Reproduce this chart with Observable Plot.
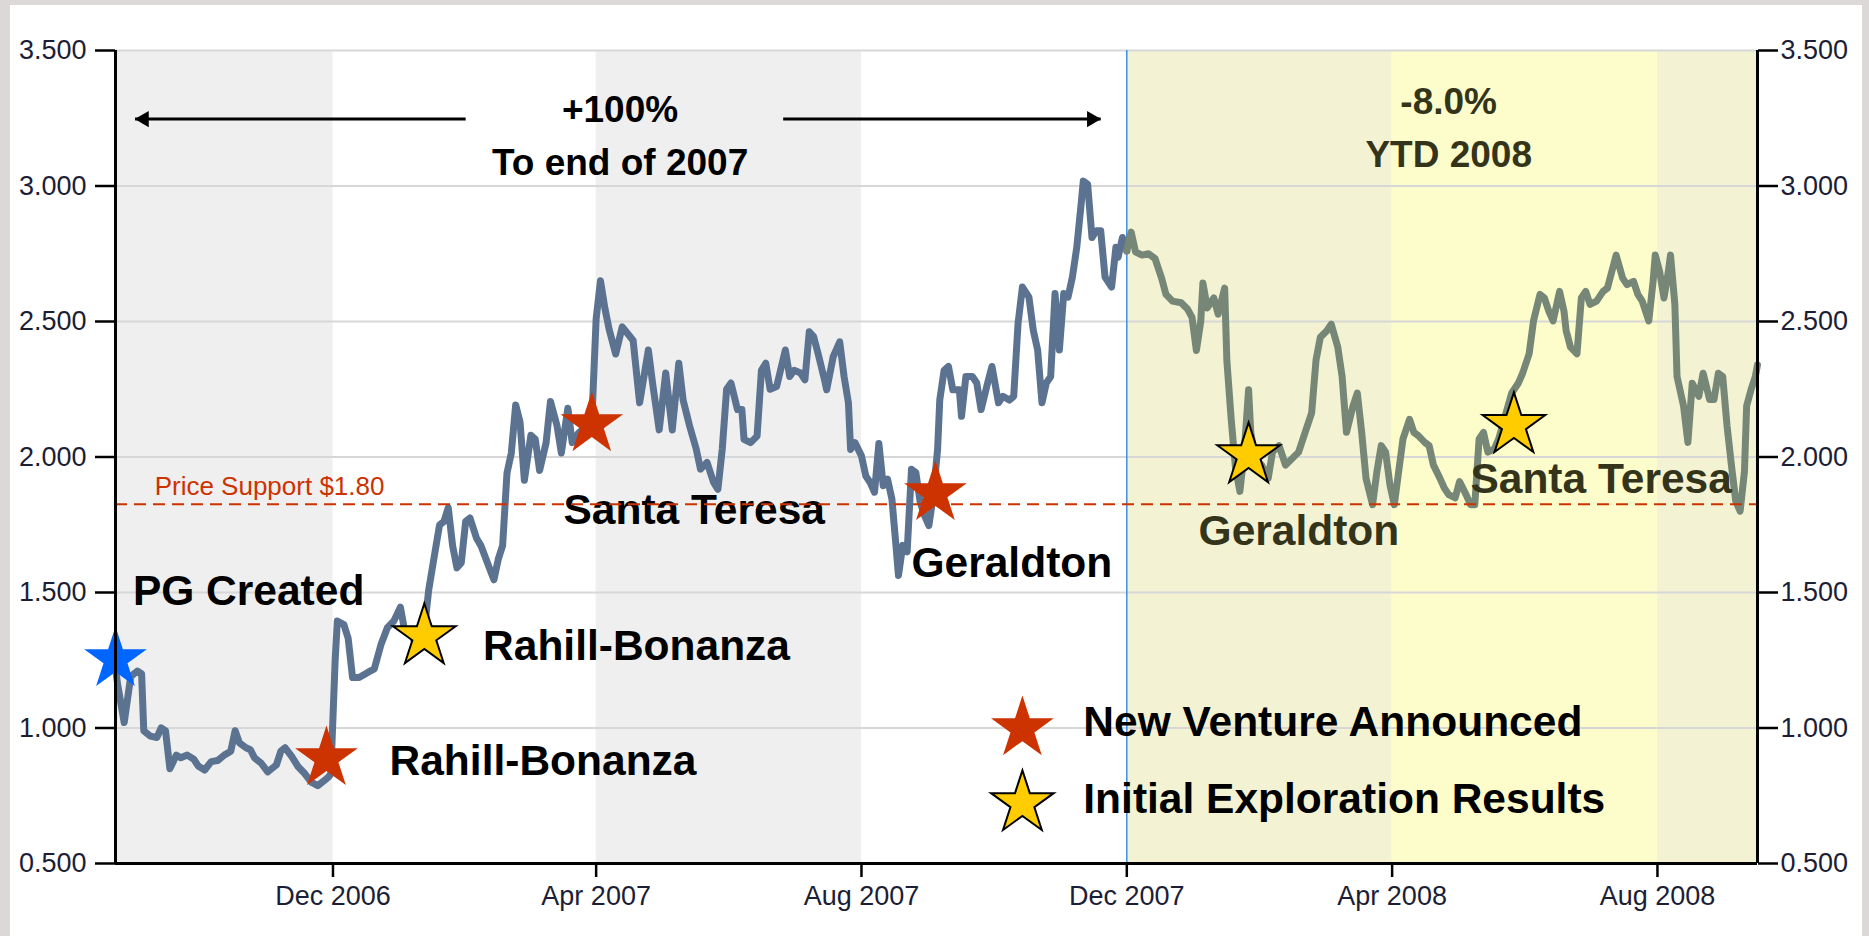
<!DOCTYPE html>
<html><head><meta charset="utf-8">
<script src="https://cdn.jsdelivr.net/npm/d3@7"></script>
<script src="https://cdn.jsdelivr.net/npm/@observablehq/plot@0.6"></script>
<style>
html,body{margin:0;padding:0;background:#ddd8d8;overflow:hidden;}
#frame{position:absolute;left:10px;top:5px;width:1852px;height:931px;background:#fff;}
#chart{position:absolute;left:0;top:0;}
</style></head><body>
<div id="frame"></div><div id="chart"></div>
<script>
// ---- data ----
const priceDates = [
"2006-08-23","2006-08-24","2006-08-27","2006-08-30","2006-09-02","2006-09-04","2006-09-05","2006-09-08","2006-09-11","2006-09-13",
"2006-09-15","2006-09-17","2006-09-20","2006-09-22","2006-09-25","2006-09-28","2006-09-30","2006-10-03","2006-10-06","2006-10-09",
"2006-10-12","2006-10-15","2006-10-17","2006-10-19","2006-10-22","2006-10-24","2006-10-26","2006-10-29","2006-11-01","2006-11-05",
"2006-11-07","2006-11-09","2006-11-12","2006-11-15","2006-11-18","2006-11-21","2006-11-24","2006-11-27","2006-11-29","2006-11-30",
"2006-12-02","2006-12-03","2006-12-06","2006-12-08","2006-12-10","2006-12-13","2006-12-17","2006-12-20","2006-12-23","2006-12-26",
"2006-12-29","2007-01-01","2007-01-03","2007-01-06","2007-01-09","2007-01-12","2007-01-14","2007-01-17","2007-01-19","2007-01-21",
"2007-01-23","2007-01-25","2007-01-27","2007-01-29","2007-01-31","2007-02-02","2007-02-05","2007-02-07","2007-02-10","2007-02-13",
"2007-02-15","2007-02-17","2007-02-19","2007-02-21","2007-02-23","2007-02-25","2007-02-27","2007-03-02","2007-03-04","2007-03-06",
"2007-03-09","2007-03-11","2007-03-14","2007-03-16","2007-03-19","2007-03-21","2007-03-24","2007-03-28","2007-03-30","2007-04-01",
"2007-04-03","2007-04-05","2007-04-07","2007-04-10","2007-04-13","2007-04-16","2007-04-18","2007-04-21","2007-04-25","2007-04-27",
"2007-04-30","2007-05-03","2007-05-06","2007-05-09","2007-05-11","2007-05-14","2007-05-17","2007-05-19","2007-05-22","2007-05-25",
"2007-05-27","2007-05-29","2007-05-31","2007-06-02","2007-06-05","2007-06-07","2007-06-08","2007-06-11","2007-06-14","2007-06-16",
"2007-06-18","2007-06-20","2007-06-23","2007-06-27","2007-06-29","2007-07-01","2007-07-04","2007-07-06","2007-07-08","2007-07-10",
"2007-07-12","2007-07-15","2007-07-16","2007-07-19","2007-07-22","2007-07-24","2007-07-26","2007-07-27","2007-07-29","2007-08-01",
"2007-08-03","2007-08-05","2007-08-07","2007-08-09","2007-08-11","2007-08-13","2007-08-15","2007-08-17","2007-08-18","2007-08-20",
"2007-08-22","2007-08-24","2007-08-26","2007-08-28","2007-08-30","2007-09-01","2007-09-03","2007-09-05","2007-09-06","2007-09-08",
"2007-09-10","2007-09-12","2007-09-15","2007-09-16","2007-09-18","2007-09-21","2007-09-23","2007-09-25","2007-09-28","2007-09-30",
"2007-10-03","2007-10-05","2007-10-08","2007-10-10","2007-10-12","2007-10-14","2007-10-17","2007-10-19","2007-10-21","2007-10-23",
"2007-10-25","2007-10-27","2007-10-29","2007-10-31","2007-11-02","2007-11-04","2007-11-06","2007-11-08","2007-11-10","2007-11-11",
"2007-11-13","2007-11-15","2007-11-17","2007-11-19","2007-11-21","2007-11-24","2007-11-26","2007-11-27","2007-11-29","2007-12-01",
"2007-12-03","2007-12-05","2007-12-08","2007-12-11","2007-12-14","2007-12-17","2007-12-19","2007-12-22","2007-12-26","2007-12-29",
"2007-12-31","2008-01-02","2008-01-04","2008-01-05","2008-01-07","2008-01-10","2008-01-12","2008-01-15","2008-01-16","2008-01-18",
"2008-01-20","2008-01-22","2008-01-24","2008-01-26","2008-01-27","2008-01-29","2008-02-01","2008-02-04","2008-02-06","2008-02-09",
"2008-02-12","2008-02-15","2008-02-18","2008-02-21","2008-02-24","2008-02-26","2008-02-28","2008-03-02","2008-03-04","2008-03-07",
"2008-03-09","2008-03-11","2008-03-14","2008-03-16","2008-03-18","2008-03-20","2008-03-23","2008-03-25","2008-03-27","2008-03-29",
"2008-03-31","2008-04-02","2008-04-04","2008-04-06","2008-04-09","2008-04-11","2008-04-13","2008-04-16","2008-04-18","2008-04-20",
"2008-04-23","2008-04-25","2008-04-27","2008-04-30","2008-05-02","2008-05-05","2008-05-07","2008-05-09","2008-05-11","2008-05-13",
"2008-05-15","2008-05-18","2008-05-20","2008-05-23","2008-05-26","2008-05-29","2008-05-31","2008-06-03","2008-06-05","2008-06-08",
"2008-06-10","2008-06-12","2008-06-14","2008-06-17","2008-06-19","2008-06-20","2008-06-22","2008-06-25","2008-06-27","2008-06-29",
"2008-07-01","2008-07-04","2008-07-07","2008-07-09","2008-07-11","2008-07-13","2008-07-16","2008-07-18","2008-07-21","2008-07-23",
"2008-07-25","2008-07-28","2008-07-30","2008-07-31","2008-08-02","2008-08-04","2008-08-06","2008-08-07","2008-08-09","2008-08-10",
"2008-08-13","2008-08-15","2008-08-17","2008-08-20","2008-08-22","2008-08-25","2008-08-27","2008-08-29","2008-08-31","2008-09-02",
"2008-09-04","2008-09-06","2008-09-08","2008-09-10","2008-09-11","2008-09-13","2008-09-15","2008-09-16"
];
const priceValues = [
1.22,1.16,1.02,1.19,1.21,1.20,0.99,0.97,0.965,1.00,
0.99,0.85,0.90,0.89,0.90,0.885,0.86,0.845,0.876,0.88,
0.90,0.914,0.99,0.945,0.927,0.92,0.889,0.87,0.838,0.864,
0.914,0.927,0.895,0.857,0.832,0.80,0.787,0.806,0.82,0.83,
1.25,1.395,1.382,1.33,1.186,1.186,1.205,1.218,1.306,1.37,
1.395,1.446,1.357,1.345,1.294,1.36,1.509,1.654,1.749,1.762,
1.813,1.673,1.591,1.61,1.762,1.775,1.70,1.673,1.61,1.547,
1.623,1.673,1.94,2.015,2.192,2.13,1.914,2.08,2.066,1.95,
2.053,2.205,2.116,2.015,2.18,2.053,2.09,2.116,2.13,2.51,
2.65,2.55,2.47,2.38,2.48,2.45,2.43,2.20,2.395,2.27,
2.10,2.31,2.10,2.346,2.21,2.114,2.03,1.955,1.98,1.906,
1.881,2.03,2.25,2.273,2.175,2.175,2.065,2.053,2.077,2.32,
2.346,2.25,2.26,2.395,2.297,2.32,2.31,2.285,2.462,2.444,
2.383,2.285,2.248,2.37,2.425,2.297,2.20,2.028,2.053,2.004,
1.93,1.906,1.87,2.05,1.894,1.918,1.845,1.66,1.563,1.674,
1.65,1.955,1.943,1.833,1.784,1.747,1.857,2.028,2.21,2.32,
2.334,2.248,2.248,2.15,2.297,2.297,2.273,2.175,2.273,2.334,
2.20,2.224,2.21,2.224,2.493,2.627,2.59,2.468,2.395,2.20,
2.273,2.297,2.603,2.395,2.603,2.59,2.664,2.774,2.933,3.018,
3.006,2.81,2.835,2.835,2.664,2.627,2.774,2.737,2.81,2.76,
2.83,2.757,2.745,2.75,2.732,2.66,2.60,2.575,2.569,2.545,
2.515,2.393,2.50,2.642,2.55,2.587,2.527,2.623,2.357,2.139,
1.958,1.873,2.018,2.248,2.091,1.994,1.97,1.921,2.018,2.042,
1.97,1.994,2.018,2.091,2.163,2.357,2.442,2.466,2.49,2.406,
2.297,2.091,2.188,2.236,2.091,1.921,1.824,1.946,2.042,2.018,
1.897,1.824,1.946,2.067,2.139,2.091,2.079,2.054,2.042,1.97,
1.921,1.885,1.861,1.849,1.909,1.861,1.824,1.824,2.067,2.091,
2.018,2.03,2.067,2.151,2.236,2.272,2.309,2.381,2.502,2.60,
2.587,2.539,2.502,2.611,2.539,2.466,2.406,2.381,2.587,2.611,
2.563,2.575,2.611,2.623,2.684,2.745,2.66,2.636,2.648,2.60,
2.575,2.502,2.648,2.745,2.684,2.587,2.684,2.745,2.563,2.297,
2.188,2.054,2.272,2.224,2.309,2.212,2.212,2.309,2.297,2.115,
1.97,1.837,1.80,1.946,2.188,2.248,2.297,2.34
];

const xDomain = ["2006-08-23", "2008-09-16"];
const yDomain = [0.5, 3.5];
const yTicks = [0.5, 1.0, 1.5, 2.0, 2.5, 3.0, 3.5];
const xTickDates = ["2006-12-01", "2007-04-01", "2007-08-01", "2007-12-01", "2008-04-01", "2008-08-01"];

const bandStarts = ["2006-08-23", "2007-04-01", "2007-12-01", "2008-04-01", "2008-08-01"];
const bandEnds   = ["2006-12-01", "2007-08-01", "2008-04-01", "2008-08-01", "2008-09-16"];
const bandKinds  = ["gray", "gray", "ytdDark", "ytdLight", "ytdDark"];

const ytdStart = "2007-12-01";
const supportLevel = 1.826;
const supportLabel = "Price Support $1.80";
const supportLabelDate = "2006-09-10";
const supportLabelValue = 1.892;

const eventDates  = ["2006-08-23", "2006-11-28", "2007-01-12", "2007-03-30", "2007-09-04", "2008-01-26", "2008-05-27"];
const eventValues = [1.253, 0.888, 1.338, 2.12, 1.866, 2.006, 2.117];
const eventKinds  = ["created", "venture", "results", "venture", "venture", "results", "results"];

const labelTexts  = ["PG Created", "Rahill-Bonanza", "Rahill-Bonanza", "Santa Teresa", "Geraldton", "Geraldton", "Santa Teresa"];
const labelDates  = ["2006-08-31", "2006-12-27", "2007-02-08", "2007-03-17", "2007-08-24", "2008-01-03", "2008-05-07"];
const labelValues = [1.504, 0.877, 1.301, 1.803, 1.608, 1.725, 1.918];

const legendKinds = ["venture", "results"];
const legendTexts = ["New Venture Announced", "Initial Exploration Results"];
const legendStarDate = "2007-10-14";
const legendTextDate = "2007-11-11";
const legendStarValues = [0.998, 0.722];
const legendTextValues = [1.02, 0.736];

const headlineTexts  = ["+100%", "To end of 2007", "-8.0%", "YTD 2008"];
const headlineDates  = ["2007-04-12", "2007-04-12", "2008-04-27", "2008-04-27"];
const headlineValues = [3.28, 3.086, 3.31, 3.112];

const arrowFrom  = ["2007-01-31", "2007-06-26"];
const arrowTo    = ["2006-09-01", "2007-11-19"];
const arrowValue = 3.247;

// ---- build ----
const parse = d3.utcParse("%Y-%m-%d");
const ytd = parse(ytdStart);
const price = priceDates.map((d, i) => ({date: parse(d), value: priceValues[i]}));
const line2007 = price.filter(d => d.date <= ytd);
const line2008 = price.filter(d => d.date >= ytd);
const bands = bandStarts.map((d, i) => ({start: parse(d), end: parse(bandEnds[i]), kind: bandKinds[i]}));
const events = eventDates.map((d, i) => ({date: parse(d), value: eventValues[i], kind: eventKinds[i]}));
const labels = labelTexts.map((t, i) => ({text: t, date: parse(labelDates[i]), value: labelValues[i]}));
const legend = legendKinds.map((k, i) => ({kind: k, text: legendTexts[i], sdate: parse(legendStarDate), tdate: parse(legendTextDate), svalue: legendStarValues[i], tvalue: legendTextValues[i]}));
const headlines = headlineTexts.map((t, i) => ({text: t, date: parse(headlineDates[i]), value: headlineValues[i]}));
const arrows = arrowFrom.map((d, i) => ({from: parse(d), to: parse(arrowTo[i]), value: arrowValue}));
const xd = xDomain.map(parse);

const C = {
  gray: "#efefef", ytdDark: "#f3f3d3", ytdLight: "#fdfdcc",
  line07: "#5b7390", line08: "#778777",
  created: "#0066ff", venture: "#cc3300", results: "#ffcc00",
  support: "#cc3300", grid: "#d7d7d7", tick: "#1c1e36",
  olive: "#34341b"
};
const FONT = "'Liberation Sans', Arial, Helvetica, sans-serif";
const starR = 19.7;

const starMarks = (data, xk, yk) => [
  Plot.dot(data.filter(d => d.kind === "created"), {x: xk, y: yk, symbol: "star", r: starR, fill: C.created, stroke: "none"}),
  Plot.dot(data.filter(d => d.kind === "venture"), {x: xk, y: yk, symbol: "star", r: starR, fill: C.venture, stroke: "none"}),
  Plot.dot(data.filter(d => d.kind === "results"), {x: xk, y: yk, symbol: "star", r: starR, fill: C.results, stroke: "#000", strokeWidth: 2})
];

const chart = Plot.plot({
  width: 1869, height: 936,
  marginLeft: 115, marginRight: 112, marginTop: 50, marginBottom: 73,
  style: {background: "transparent", fontFamily: FONT, overflow: "visible"},
  x: {type: "utc", domain: xd, label: null},
  y: {domain: yDomain, label: null},
  marks: [
    Plot.rect(bands.filter(d => d.kind === "gray"), {x1: "start", x2: "end", fill: C.gray}),
    Plot.rect(bands.filter(d => d.kind === "ytdDark"), {x1: "start", x2: "end", fill: C.ytdDark}),
    Plot.rect(bands.filter(d => d.kind === "ytdLight"), {x1: "start", x2: "end", fill: C.ytdLight}),
    Plot.ruleY(yTicks, {stroke: C.grid, strokeWidth: 2}),
    Plot.ruleX([ytd], {stroke: "#3d8fe6", strokeWidth: 1.5}),
    Plot.line(line2007, {x: "date", y: "value", stroke: C.line07, strokeWidth: 7, strokeLinejoin: "round", strokeLinecap: "round"}),
    Plot.line(line2008, {x: "date", y: "value", stroke: C.line08, strokeWidth: 7, strokeLinejoin: "round", strokeLinecap: "round"}),
    Plot.text(labels, {x: "date", y: "value", text: "text", textAnchor: "start", fontSize: 42.5, fontWeight: "bold",
      fill: d => d.date >= ytd ? C.olive : "#000"}),
    Plot.text(legend, {x: "tdate", y: "tvalue", text: "text", textAnchor: "start", fontSize: 42.5, fontWeight: "bold", fill: "#000"}),
    Plot.text(headlines, {x: "date", y: "value", text: "text", textAnchor: "middle", fontSize: 37, fontWeight: "bold",
      fill: d => d.date >= ytd ? C.olive : "#000"}),
    Plot.text([{date: parse(supportLabelDate), value: supportLabelValue, text: supportLabel}],
      {x: "date", y: "value", text: "text", textAnchor: "start", fontSize: 26, fill: C.support}),
    Plot.ruleY([supportLevel], {stroke: C.support, strokeWidth: 2, strokeDasharray: "12,7"}),
    ...starMarks(events, "date", "value"),
    ...starMarks(legend, "sdate", "svalue"),
    Plot.link(arrows, {x1: "from", x2: "to", y1: "value", y2: "value", stroke: "#000", strokeWidth: 3}),
    Plot.dot(arrows.filter(d => d.to < d.from), {x: "to", y: "value", symbol: "triangle", r: 6, fill: "#000", stroke: "none", rotate: -90, dx: 9}),
    Plot.dot(arrows.filter(d => d.to > d.from), {x: "to", y: "value", symbol: "triangle", r: 6, fill: "#000", stroke: "none", rotate: 90, dx: -9}),
    Plot.ruleX([xd[0], xd[1]], {stroke: "#000", strokeWidth: 3}),
    Plot.ruleY([yDomain[0]], {stroke: "#000", strokeWidth: 3}),
    Plot.axisY({anchor: "left", ticks: yTicks, tickFormat: d3.format(".3f"), tickSize: 20, tickPadding: 9,
      fontSize: 27, fill: C.tick, stroke: "#000", strokeWidth: 2.5, label: null}),
    Plot.axisY({anchor: "right", ticks: yTicks, tickFormat: d3.format(".3f"), tickSize: 20, tickPadding: 3,
      fontSize: 27, fill: C.tick, stroke: "#000", strokeWidth: 2.5, label: null}),
    Plot.axisX({ticks: xTickDates.map(parse), tickFormat: d3.utcFormat("%b %Y"), tickSize: 14, tickPadding: 8,
      fontSize: 27, fill: C.tick, stroke: "#000", strokeWidth: 2.5, label: null})
  ]
});
document.getElementById("chart").appendChild(chart);
</script></body></html>
